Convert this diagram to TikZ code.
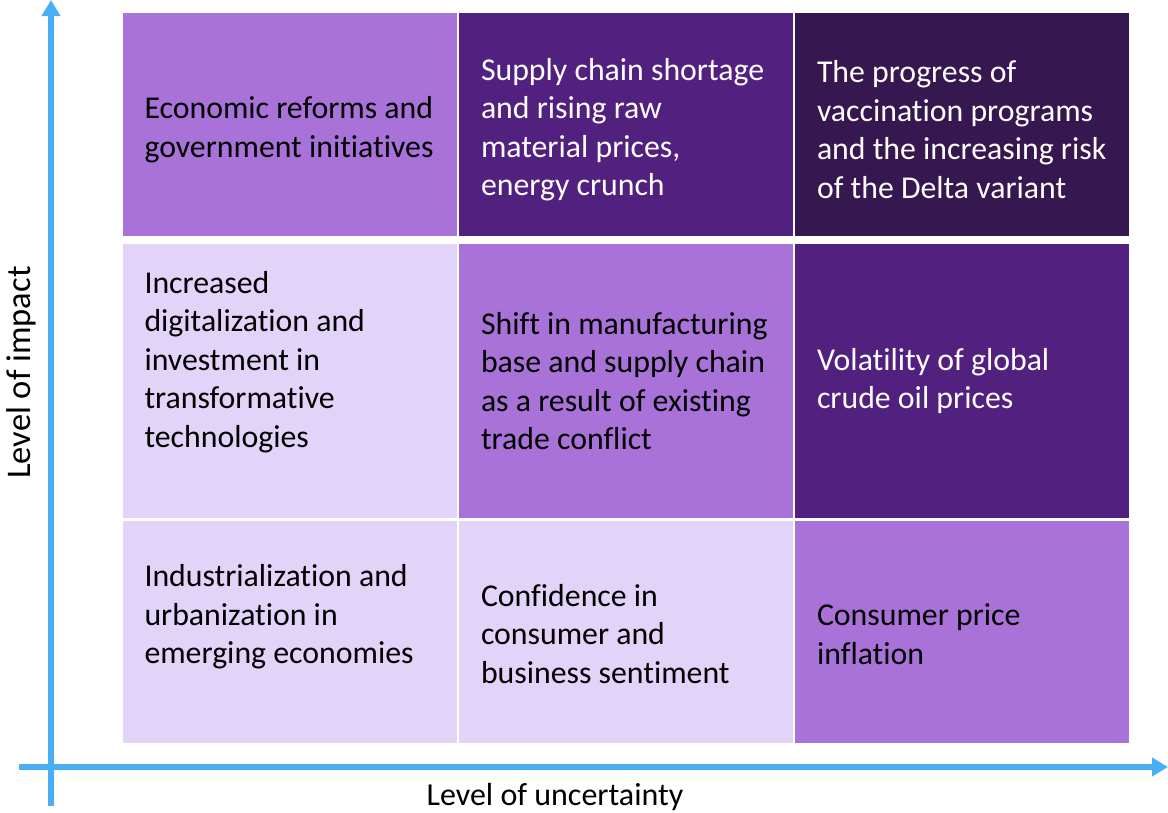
\documentclass[tikz,border=0pt]{standalone}
\usepackage{fontspec}
\setmainfont{Carlito}[Ligatures={NoCommon}]
\usetikzlibrary{arrows.meta}

\definecolor{lightlav}{HTML}{E2D3F9}
\definecolor{midpurple}{HTML}{A872D8}
\definecolor{darkpurple}{HTML}{52207E}
\definecolor{deeppurple}{HTML}{37174F}
\definecolor{axisblue}{HTML}{4AAEF5}

\tikzset{
    cell/.style={rectangle, draw=none, inner sep=0pt, minimum width=334pt},
    celltext/.style={anchor=west, align=left, inner sep=0pt,
        font=\fontsize{31.8}{38.5}\selectfont},
    axislabel/.style={inner sep=0pt, font=\fontsize{32}{36}\selectfont},
    axis/.style={axisblue, line width=5.5pt,
        -{Triangle[width=18pt,length=16pt]}}
}

\begin{document}
\begin{tikzpicture}[x=1pt, y=1pt]
    \useasboundingbox (0,0) rectangle (1168,-812);

    % top row
    \node[cell, fill=midpurple, minimum height=223pt] (econ-cell) at (289.5,-124.5) {};
    \node[cell, fill=darkpurple, minimum height=223pt] (supply-cell) at (626,-124.5) {};
    \node[cell, fill=deeppurple, minimum height=223pt] (vaccine-cell) at (962,-124.5) {};
    % middle row
    \node[cell, fill=lightlav, minimum height=274pt] (digital-cell) at (289.5,-381) {};
    \node[cell, fill=midpurple, minimum height=274pt] (shift-cell) at (626,-381) {};
    \node[cell, fill=darkpurple, minimum height=274pt] (oil-cell) at (962,-381) {};
    % bottom row
    \node[cell, fill=lightlav, minimum height=222pt] (industry-cell) at (289.5,-632) {};
    \node[cell, fill=lightlav, minimum height=222pt] (confidence-cell) at (626,-632) {};
    \node[cell, fill=midpurple, minimum height=222pt] (inflation-cell) at (962,-632) {};

    \node[celltext] (econ) at ([xshift=22pt, yshift=-5pt]econ-cell.west)
        {Economic reforms and\\government initiatives};
    \node[celltext, text=white] (supply) at ([xshift=22pt, yshift=-5pt]supply-cell.west)
        {Supply chain shortage\\and rising raw\\material prices,\\energy crunch};
    \node[celltext, text=white] (vaccine) at ([xshift=22pt, yshift=-5pt]vaccine-cell.west)
        {The progress of\\vaccination programs\\and the increasing risk\\of the Delta variant};
    \node[celltext] (digital) at ([xshift=22pt, yshift=19pt]digital-cell.west)
        {Increased\\digitalization and\\investment in\\transformative\\technologies};
    \node[celltext] (shift) at ([xshift=22pt]shift-cell.west)
        {Shift in manufacturing\\base and supply chain\\as a result of existing\\trade conflict};
    \node[celltext, text=white] (oil) at ([xshift=22pt]oil-cell.west)
        {Volatility of global\\crude oil prices};
    \node[celltext] (industry) at ([xshift=22pt, yshift=15pt]industry-cell.west)
        {Industrialization and\\urbanization in\\emerging economies};
    \node[celltext] (confidence) at ([xshift=22pt, yshift=-2pt]confidence-cell.west)
        {Confidence in\\consumer and\\business sentiment};
    \node[celltext] (inflation) at ([xshift=22pt, yshift=-2pt]inflation-cell.west)
        {Consumer price\\inflation};

    % axes
    \coordinate (impact-start) at (51,-806);
    \coordinate (impact-end) at (51,0);
    \coordinate (uncert-start) at (19,-767);
    \coordinate (uncert-end) at (1168,-767);
    \draw[axis] (impact-start) -- (impact-end);
    \draw[axis] (uncert-start) -- (uncert-end);

    \node[axislabel] (uncert-label) at (555,-797) {Level of uncertainty};
    \node[axislabel, rotate=90, font=\fontsize{34.5}{38}\selectfont] (impact-label)
        at (21,-372.5) {Level of impact};
\end{tikzpicture}
\end{document}
